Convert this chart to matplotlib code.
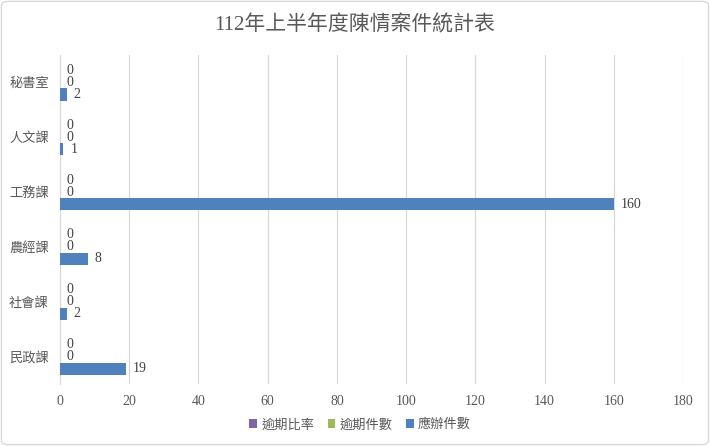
import matplotlib
matplotlib.use('Agg')
import matplotlib.pyplot as plt
import numpy as np
from matplotlib.patches import FancyBboxPatch

plt.rcParams['font.family'] = ['Liberation Serif', 'Noto Sans CJK TC', 'DejaVu Sans']

# 資料
categories = ['民政課', '社會課', '農經課', '工務課', '人文課', '秘書室']
series_names = ['逾期比率', '逾期件數', '應辦件數']
overdue_ratio = [0, 0, 0, 0, 0, 0]
overdue_count = [0, 0, 0, 0, 0, 0]
total_count = [19, 2, 8, 160, 1, 2]
series_colors = ['#8064A2', '#9BBB59', '#4F81BD']
x_ticks = [0, 20, 40, 60, 80, 100, 120, 140, 160, 180]

fig = plt.figure(figsize=(7.1, 4.46), dpi=100)
ax = fig.add_axes([60 / 710, 1 - 384 / 446, 623 / 710, 329 / 446])

# 外框
border = FancyBboxPatch((0.002, 0.003), 0.996, 0.994, boxstyle='round,pad=0,rounding_size=0.01',
                        transform=fig.transFigure, facecolor='none', edgecolor='#D9D9D9', lw=1)
fig.patches.append(border)

y = np.arange(len(categories))
h = 0.22
offsets = [h, 0, -h]
text_color = '#595959'

for vals, name, col, off in zip([overdue_ratio, overdue_count, total_count], series_names,
                                series_colors, offsets):
    bars = ax.barh(y + off, vals, height=h, color=col, label=name, zorder=3)
    for b, v in zip(bars, vals):
        ax.text(b.get_width() + 2.0, b.get_y() + b.get_height() / 2, str(v),
                va='center', ha='left', fontsize=10, color='#404040')

ax.set_xlim(0, 180)
ax.set_ylim(-0.5, len(categories) - 0.5)
ax.set_xticks(x_ticks)
ax.set_xticklabels([str(t) for t in x_ticks], fontsize=10, color=text_color)
ax.set_yticks(y)
ax.set_yticklabels(categories, fontsize=9.5, color=text_color)
ax.tick_params(axis='both', length=0, pad=8)
ax.xaxis.grid(True, color='#D9D9D9', lw=0.9, zorder=0)
for s in ['top', 'right', 'bottom']:
    ax.spines[s].set_visible(False)
ax.spines['left'].set_color('#D9D9D9')

fig.text(0.5, 1 - 25 / 446, '112年上半年度陳情案件統計表', ha='center', va='center',
         fontsize=15, color=text_color)

handles, labels = ax.get_legend_handles_labels()
fig.legend(handles, labels, loc='center', bbox_to_anchor=(360 / 710, 1 - 425 / 446), ncol=3,
           frameon=False, fontsize=9.5, handlelength=0.6, handleheight=0.6, handletextpad=0.3,
           columnspacing=1.0, labelcolor=text_color)

fig.savefig('out.png', dpi=100)
